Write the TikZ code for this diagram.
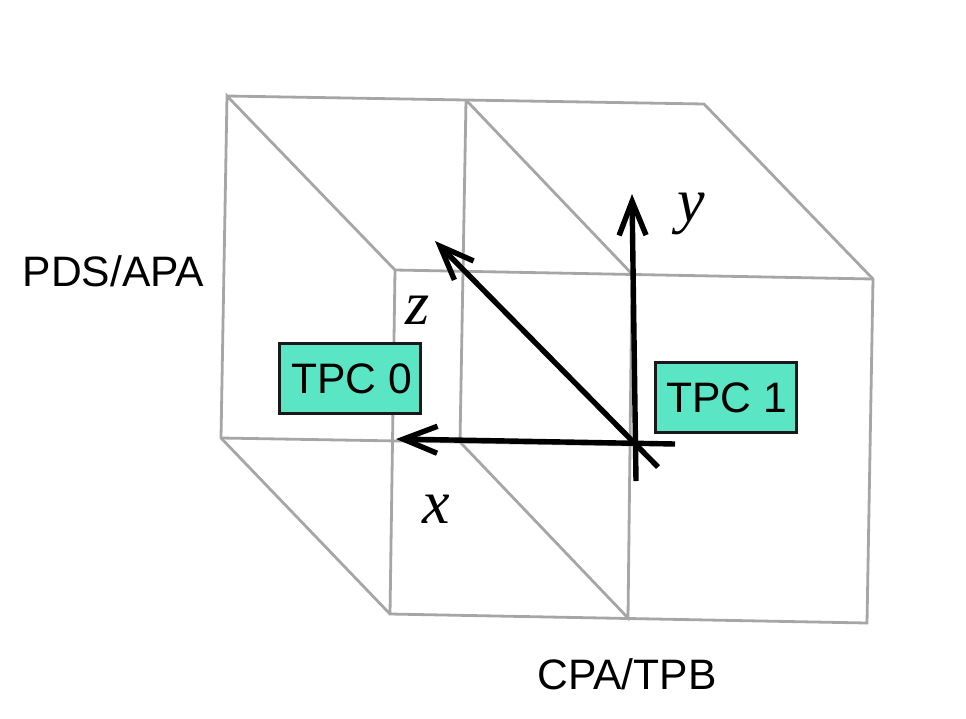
\documentclass[tikz,border=0pt]{standalone}
\usepackage{fontspec}
\setmainfont{Liberation Sans}
\newfontfamily\labelserif{Liberation Serif}
\usepackage{xcolor}
\usetikzlibrary{arrows.meta}
\definecolor{boxgreen}{HTML}{5AE5C4}
\definecolor{framegray}{HTML}{A6A6A6}
\tikzset{
    frameline/.style={framegray, line width=2.8pt, line join=miter},
    axisline/.style={black, line width=5.4pt, -{Straight Barb[length=34pt,width=27pt,line width=5.4pt]}},
    tpcbox/.style={draw=black!90, line width=2.4pt, fill=boxgreen, minimum width=141pt, minimum height=70pt, inner sep=0pt, font=\fontsize{42.6pt}{43pt}\selectfont},
    sidelabel/.style={inner sep=0pt, font=\fontsize{42.6pt}{43pt}\selectfont},
    axislabel/.style={inner sep=0pt, font=\labelserif\itshape\fontsize{62pt}{62pt}\selectfont}
}
\begin{document}
\begin{tikzpicture}[x=1pt,y=-1pt]
    \useasboundingbox (0,0) rectangle (966,718);

    \coordinate (B1) at (227,96);
    \coordinate (B2) at (466,100);
    \coordinate (B3) at (704,104);
    \coordinate (B4) at (221,438);
    \coordinate (B5) at (460,442);
    \coordinate (B6) at (636,445);

    \coordinate (F1) at (395,270);
    \coordinate (F2) at (632,274);
    \coordinate (F3) at (873,279);
    \coordinate (F4) at (390,614);
    \coordinate (F5) at (628,618);
    \coordinate (F6) at (867,623);

    \coordinate (X0) at (675,444);
    \coordinate (X1) at (396,439);
    \coordinate (Y0) at (636,481);
    \coordinate (Y1) at (632,194);
    \coordinate (Z0) at (658,467);
    \coordinate (Z1) at (435,241);

    \draw[frameline] (B1) -- (B3) -- (F3) -- (F6) -- (F4) -- (F1) -- (B1) -- (B4) -- (F4);
    \draw[frameline] (F1) -- (F3);
    \draw[frameline] (B4) -- (B6);
    \draw[frameline] (B2) -- (B5) -- (F5) -- (F2) -- (B2);

%labels
    \node[tpcbox] (TPC0) at (350,378.5) {\hspace{3pt}TPC 0};
    \node[tpcbox] (TPC1) at (726,397.5) {\hspace{1pt}TPC 1};
    \node[sidelabel] (PDS) at (113.5,271) {PDS/APA};
    \node[sidelabel] (CPA) at (627,674) {CPA/TPB};

    \draw[axisline] (X0) -- (X1);
    \draw[axisline] (Y0) -- (Y1);
    \draw[axisline] (Z0) -- (Z1);

    \node[axislabel] (xlabel) at (436,509) {x};
    \node[axislabel] (ylabel) at (691,214) {y};
    \node[axislabel] (zlabel) at (418,310) {z};
\end{tikzpicture}
\end{document}
